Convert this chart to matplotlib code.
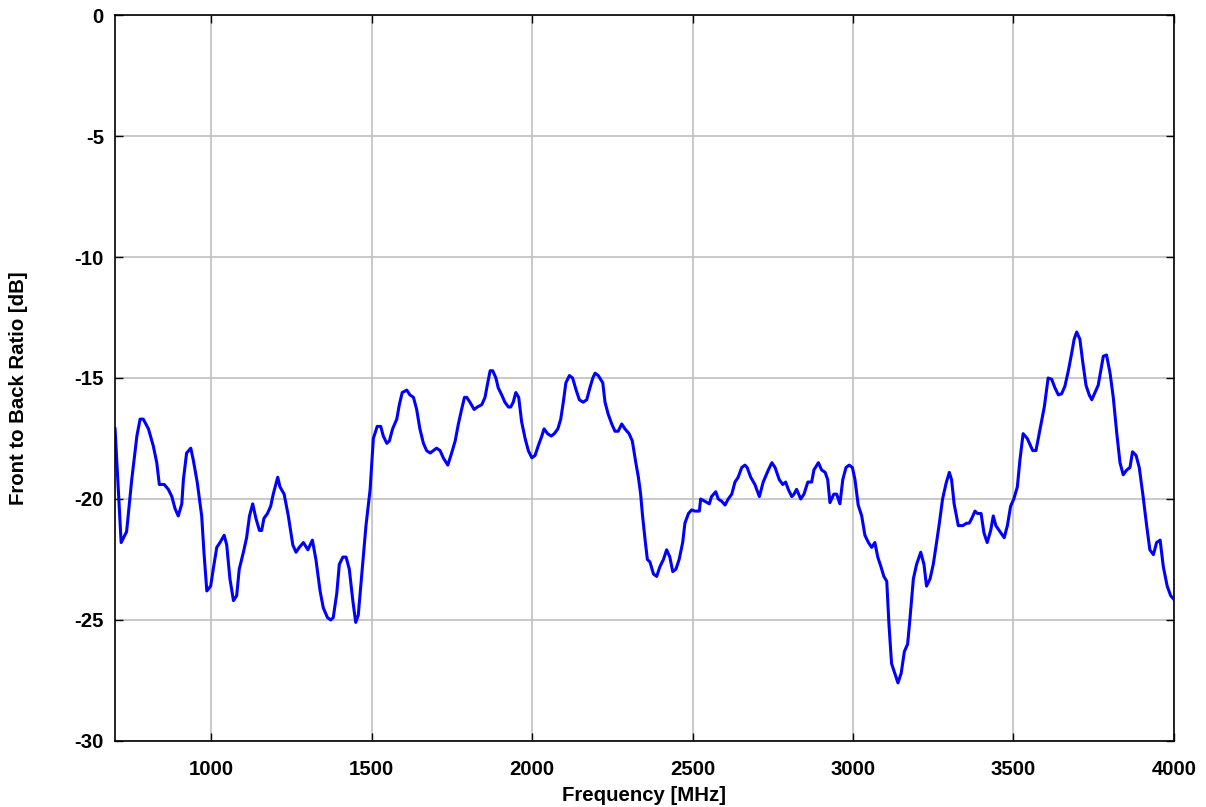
import matplotlib.pyplot as plt

# Frequency sweep (MHz) and measured front-to-back ratio (dB)
freq = [700, 719, 736, 752, 768, 778, 788, 804, 819, 830, 838, 853, 866, 877, 887,
        897, 908, 913, 923, 936, 944, 956, 970, 977, 986, 998, 1006, 1017, 1027, 1040,
        1048, 1058, 1069, 1079, 1087, 1100, 1110, 1119, 1129, 1139, 1150, 1157, 1164,
        1175, 1185, 1193, 1207, 1214, 1227, 1240, 1254, 1264, 1274, 1287, 1301, 1315,
        1326, 1339, 1349, 1362, 1372, 1380, 1391, 1399, 1410, 1420, 1430, 1441, 1450,
        1458, 1469, 1482, 1495, 1505, 1517, 1528, 1536, 1547, 1555, 1565, 1578, 1586,
        1595, 1609, 1619, 1630, 1640, 1650, 1661, 1671, 1682, 1692, 1702, 1713, 1723,
        1737, 1749, 1760, 1770, 1780, 1789, 1796, 1806, 1819, 1829, 1843, 1853, 1860,
        1869, 1877, 1887, 1894, 1905, 1915, 1926, 1933, 1941, 1949, 1958, 1967, 1978,
        1988, 1999, 2009, 2019, 2030, 2037, 2048, 2059, 2069, 2080, 2089, 2097, 2105,
        2116, 2126, 2137, 2147, 2159, 2170, 2180, 2189, 2196, 2206, 2220, 2227, 2237,
        2248, 2258, 2268, 2279, 2289, 2302, 2312, 2323, 2331, 2338, 2344, 2352, 2359,
        2367, 2378, 2388, 2398, 2409, 2419, 2429, 2438, 2448, 2458, 2469, 2476, 2487,
        2497, 2507, 2521, 2525, 2539, 2552, 2559, 2572, 2580, 2591, 2601, 2611, 2622,
        2632, 2642, 2653, 2663, 2670, 2681, 2694, 2708, 2720, 2736, 2747, 2757, 2770,
        2781, 2790, 2798, 2809, 2816, 2824, 2837, 2847, 2859, 2871, 2878, 2892, 2902,
        2913, 2921, 2928, 2940, 2949, 2959, 2968, 2978, 2988, 2998, 3006, 3016, 3027,
        3037, 3048, 3058, 3068, 3077, 3087, 3096, 3105, 3112, 3120, 3130, 3140, 3150,
        3160, 3170, 3177, 3188, 3198, 3211, 3221, 3229, 3240, 3250, 3258, 3269, 3279,
        3290, 3300, 3307, 3315, 3328, 3342, 3354, 3362, 3370, 3380, 3388, 3399, 3408,
        3418, 3429, 3437, 3445, 3458, 3471, 3481, 3491, 3501, 3512, 3520, 3530, 3543,
        3560, 3570, 3583, 3596, 3608, 3619, 3629, 3640, 3650, 3660, 3671, 3681, 3689,
        3697, 3707, 3715, 3726, 3736, 3744, 3754, 3764, 3772, 3780, 3790, 3801, 3811,
        3822, 3832, 3842, 3853, 3863, 3871, 3882, 3892, 3904, 3915, 3925, 3936, 3946,
        3957, 3967, 3979, 3990, 4000]
fb_ratio = [-17.1, -21.8, -21.35, -19.2, -17.4, -16.7, -16.7, -17.1, -17.8, -18.5, -19.4,
            -19.4, -19.6, -19.9, -20.4, -20.7, -20.2, -19.2, -18.1, -17.9, -18.4, -19.3,
            -20.7, -22.2, -23.8, -23.6, -22.9, -22.0, -21.8, -21.5, -21.9, -23.3, -24.2,
            -24.0, -22.9, -22.2, -21.6, -20.7, -20.2, -20.8, -21.3, -21.3, -20.8, -20.6,
            -20.3, -19.8, -19.1, -19.5, -19.8, -20.7, -21.9, -22.2, -22.0, -21.8, -22.1,
            -21.7, -22.5, -23.8, -24.5, -24.9, -25.0, -24.9, -23.9, -22.7, -22.4, -22.4,
            -22.9, -24.2, -25.1, -24.8, -23.1, -21.1, -19.6, -17.5, -17.0, -17.0, -17.4,
            -17.7, -17.6, -17.1, -16.7, -16.1, -15.6, -15.5, -15.7, -15.8, -16.3, -17.1,
            -17.7, -18.0, -18.1, -18.0, -17.9, -18.0, -18.3, -18.6, -18.1, -17.6, -16.9,
            -16.3, -15.8, -15.8, -16.0, -16.3, -16.2, -16.1, -15.8, -15.3, -14.7, -14.7,
            -15.0, -15.4, -15.7, -16.0, -16.2, -16.2, -16.0, -15.6, -15.8, -16.8, -17.5,
            -18.0, -18.3, -18.2, -17.8, -17.4, -17.1, -17.3, -17.4, -17.3, -17.1, -16.7,
            -16.0, -15.2, -14.9, -15.0, -15.5, -15.9, -16.0, -15.9, -15.4, -15.0, -14.8,
            -14.9, -15.2, -16.0, -16.5, -16.9, -17.2, -17.2, -16.9, -17.1, -17.3, -17.6,
            -18.5, -19.1, -19.8, -20.7, -21.7, -22.5, -22.6, -23.1, -23.2, -22.8, -22.5,
            -22.1, -22.4, -23.0, -22.9, -22.5, -21.8, -21.0, -20.6, -20.45, -20.5, -20.5,
            -20.0, -20.1, -20.2, -19.9, -19.7, -20.0, -20.1, -20.25, -20.0, -19.8, -19.3,
            -19.1, -18.7, -18.6, -18.7, -19.1, -19.4, -19.9, -19.3, -18.8, -18.5, -18.7,
            -19.2, -19.4, -19.3, -19.6, -19.9, -19.8, -19.6, -20.0, -19.8, -19.3, -19.3,
            -18.8, -18.5, -18.8, -18.9, -19.2, -20.15, -19.8, -19.8, -20.2, -19.2, -18.7,
            -18.6, -18.7, -19.2, -20.25, -20.7, -21.5, -21.8, -22.0, -21.8, -22.4, -22.8,
            -23.2, -23.4, -25.2, -26.8, -27.2, -27.6, -27.2, -26.3, -26.0, -25.0, -23.3,
            -22.7, -22.2, -22.7, -23.6, -23.3, -22.7, -22.0, -21.0, -20.0, -19.35, -18.9,
            -19.2, -20.2, -21.1, -21.1, -21.0, -21.0, -20.8, -20.5, -20.6, -20.6, -21.4,
            -21.8, -21.3, -20.7, -21.1, -21.35, -21.6, -21.1, -20.3, -20.0, -19.5, -18.4,
            -17.3, -17.5, -18.0, -18.0, -17.1, -16.2, -15.0, -15.05, -15.4, -15.7, -15.65,
            -15.35, -14.7, -14.0, -13.4, -13.1, -13.4, -14.25, -15.3, -15.7, -15.9, -15.6,
            -15.3, -14.7, -14.1, -14.05, -14.8, -15.8, -17.3, -18.5, -19.0, -18.8, -18.7,
            -18.05, -18.2, -18.7, -19.9, -21.1, -22.1, -22.3, -21.8, -21.7, -22.8, -23.6,
            -24.0, -24.15]

plt.rcParams['font.family'] = ['Liberation Sans', 'DejaVu Sans']
plt.rcParams['font.weight'] = 'bold'
plt.rcParams['axes.unicode_minus'] = False

fig = plt.figure(figsize=(12.06, 8.07), dpi=100)
ax = fig.add_axes([0.0954, 0.0818, 0.878, 0.8996])

ax.plot(freq, fb_ratio, color='#0000ff', linewidth=2.2)

ax.set_xlim(700, 4000)
ax.set_ylim(-30, 0)
ax.set_xticks([1000, 1500, 2000, 2500, 3000, 3500, 4000])
ax.set_yticks([0, -5, -10, -15, -20, -25, -30])
ax.grid(True, color='#c0c0c0', linewidth=1.2)
ax.set_axisbelow(True)
ax.tick_params(direction='in', length=6, width=1, top=True, right=True,
               labelsize=14.7)
ax.tick_params(axis='x', pad=13.5)
ax.tick_params(axis='y', pad=8)
for lbl in ax.get_xticklabels() + ax.get_yticklabels():
    lbl.set_fontweight('bold')
for sp in ax.spines.values():
    sp.set_linewidth(1.2)

ax.set_xlabel('Frequency [MHz]', fontsize=14.7, fontweight='bold', labelpad=5)
ax.set_ylabel('Front to Back Ratio [dB]', fontsize=14.7, fontweight='bold')
ax.yaxis.set_label_coords(-0.082, 0.486)

fig.savefig('out.png', dpi=100)
